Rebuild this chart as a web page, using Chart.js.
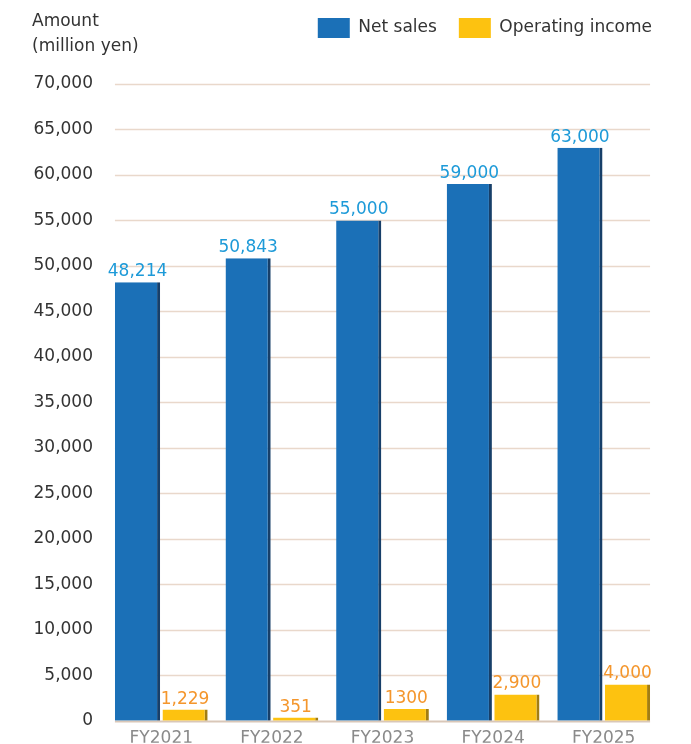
<!DOCTYPE html>
<html>
<head>
<meta charset="utf-8">
<script src="https://cdn.jsdelivr.net/npm/chart.js@4.4.1/dist/chart.umd.min.js"></script>
<style>
  html, body { margin: 0; padding: 0; background: #fff; }
  #wrap { position: relative; width: 691px; height: 744px; }
  #unit { position: absolute; left: 32px; top: 8px; font: 17px "DejaVu Sans", sans-serif; color: #333; line-height: 25px; }
</style>
</head>
<body>
<div id="wrap">
  <canvas id="sales-chart" width="691" height="744"></canvas>
  <div id="unit">Amount<br>(million yen)</div>
</div>
<script>
const years = ['FY2021', 'FY2022', 'FY2023', 'FY2024', 'FY2025'];
const netSales = [48214, 50843, 55000, 59000, 63000];
const operatingIncome = [1229, 351, 1300, 2900, 4000];
const netSalesLabels = ['48,214', '50,843', '55,000', '59,000', '63,000'];
const operatingIncomeLabels = ['1,229', '351', '1300', '2,900', '4,000'];

const FONT = '"DejaVu Sans", sans-serif';

// horizontal rules only under the bars, darker one at zero
const gridPlugin = {
  id: 'gridLines',
  beforeDatasetsDraw(chart) {
    const ctx = chart.ctx;
    const yScale = chart.scales.y;
    const first = chart.getDatasetMeta(0).data[0];
    const last = chart.getDatasetMeta(1).data[years.length - 1];
    const left = first.x - first.width / 2;
    const right = last.x + last.width / 2;
    ctx.save();
    yScale.ticks.forEach((t) => {
      const y = Math.round(yScale.getPixelForValue(t.value)) + 0.5;
      ctx.strokeStyle = t.value === 0 ? '#d9c7b8' : '#e9d8cb';
      ctx.lineWidth = t.value === 0 ? 2 : 1.3;
      ctx.beginPath();
      ctx.moveTo(left, y);
      ctx.lineTo(right, y);
      ctx.stroke();
    });
    ctx.restore();
  },
};

const valueLabelPlugin = {
  id: 'valueLabels',
  afterDatasetsDraw(chart) {
    const ctx = chart.ctx;
    const sets = [
      { labels: netSalesLabels, color: '#1d9ad8' },
      { labels: operatingIncomeLabels, color: '#f4962c' },
    ];
    ctx.save();
    ctx.font = `17px ${FONT}`;
    ctx.textAlign = 'center';
    ctx.textBaseline = 'bottom';
    sets.forEach((s, i) => {
      chart.getDatasetMeta(i).data.forEach((bar, j) => {
        ctx.fillStyle = s.color;
        ctx.fillText(s.labels[j], bar.x, bar.y - 2);
      });
    });
    ctx.restore();
  },
};

// legend takes the whole band above the plot, nudged up and right
const legendBox = {
  id: 'legendBox',
  beforeInit(chart) {
    const fit = chart.legend.fit;
    chart.legend.fit = function () {
      fit.bind(chart.legend)();
      this.height = 84;
    };
  },
  afterLayout(chart) {
    chart.legend.right += 15;
    chart.legend.top -= 4;
  },
};

const ctx = document.getElementById('sales-chart').getContext('2d');
new Chart(ctx, {
  type: 'bar',
  data: {
    labels: years,
    datasets: [
      {
        label: 'Net sales',
        data: netSales,
        backgroundColor: '#1b70b7',
        borderColor: '#173f69',
        borderWidth: { right: 3, left: 0, top: 0, bottom: 0 },
        borderSkipped: false,
      },
      {
        label: 'Operating income',
        data: operatingIncome,
        backgroundColor: '#fdc210',
        borderColor: '#a27d12',
        borderWidth: { right: 3, left: 0, top: 0, bottom: 0 },
        borderSkipped: false,
      },
    ],
  },
  options: {
    responsive: false,
    animation: false,
    categoryPercentage: 0.86,
    barPercentage: 0.95,
    layout: { padding: { top: 0, right: 32, bottom: 0, left: 0 } },
    plugins: {
      legend: {
        position: 'top',
        align: 'end',
        labels: {
          boxWidth: 32,
          boxHeight: 20,
          padding: 22,
          color: '#333',
          font: { family: FONT, size: 17 },
          useBorderRadius: false,
          generateLabels(chart) {
            return chart.data.datasets.map((d, i) => ({
              text: d.label,
              fillStyle: d.backgroundColor,
              strokeStyle: d.backgroundColor,
              lineWidth: 0,
              datasetIndex: i,
              fontColor: '#333',
            }));
          },
        },
      },
      tooltip: { enabled: false },
    },
    scales: {
      x: {
        grid: { display: false, drawTicks: false },
        border: { display: false },
        ticks: { color: '#8a8a8a', font: { family: FONT, size: 17 }, padding: 8 },
        afterFit: (s) => { s.height = 22; },
      },
      y: {
        min: 0,
        max: 70000,
        grid: { display: false, drawTicks: false },
        border: { display: false },
        ticks: {
          stepSize: 5000,
          padding: 13,
          color: '#333',
          font: { family: FONT, size: 17 },
          callback: (v) => v.toLocaleString('en-US'),
        },
        afterFit: (s) => { s.width = 106; },
      },
    },
  },
  plugins: [gridPlugin, valueLabelPlugin, legendBox],
});
</script>
</body>
</html>
